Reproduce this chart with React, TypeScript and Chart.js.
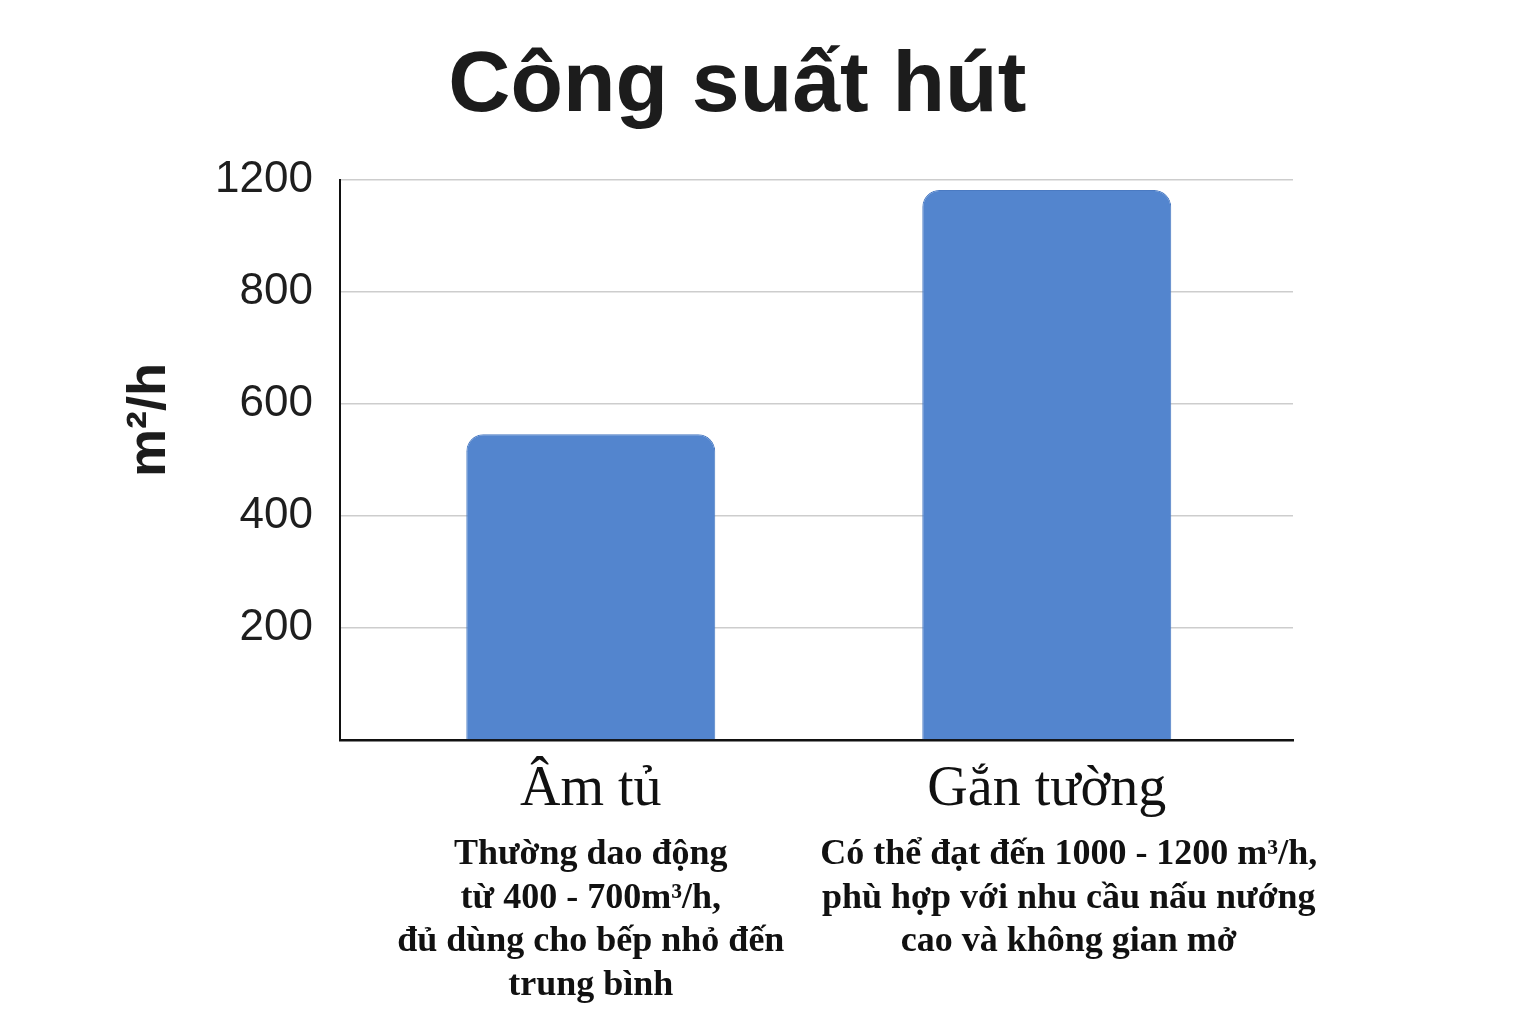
import React, { useEffect, useRef } from "react";
import { Chart, registerables } from "chart.js";

Chart.register(...registerables);

const TITLE = "Công suất hút";
const Y_TITLE = "m²/h";
const categories = ["Âm tủ", "Gắn tường"];
const descriptions = [
  ["Thường dao động", "từ 400 - 700m³/h,", "đủ dùng cho bếp nhỏ đến", "trung bình"],
  ["Có thể đạt đến 1000 - 1200 m³/h,", "phù hợp với nhu cầu nấu nướng", "cao và không gian mở"],
];
const values = [546, 982];
const tickValues = [0, 200, 400, 600, 800, 1000];
const tickLabels = ["", "200", "400", "600", "800", "1200"];

const SANS = '"Liberation Sans", Arial, Helvetica, sans-serif';
const SERIF = '"Liberation Serif", "Times New Roman", serif';

const textPlugin = {
  id: "customText",
  afterDraw(chart: any) {
    const ctx = chart.ctx as CanvasRenderingContext2D;
    const xs = chart.scales.x;
    ctx.save();
    ctx.fillStyle = "#1c1c1c";
    ctx.textAlign = "center";
    ctx.textBaseline = "alphabetic";
    ctx.font = `bold 86px ${SANS}`;
    ctx.fillText(TITLE, chart.width * 0.48, 111);

    ctx.save();
    ctx.translate(165, 420);
    ctx.rotate(-Math.PI / 2);
    ctx.font = `bold 54px ${SANS}`;
    ctx.fillText(Y_TITLE, 0, 0);
    ctx.restore();

    ctx.fillStyle = "#111";
    categories.forEach((cat, i) => {
      const x = xs.getPixelForValue(i);
      ctx.font = `56px ${SERIF}`;
      ctx.fillText(cat, x, 805);
      ctx.font = `bold 36px ${SERIF}`;
      descriptions[i].forEach((line, j) => {
        ctx.fillText(line, x + (i === 1 ? 22 : 0), 864 + j * 43.5);
      });
    });
    ctx.restore();
  },
};

export default function App() {
  const ref = useRef<HTMLCanvasElement | null>(null);
  useEffect(() => {
    if (!ref.current) return;
    const chart = new Chart(ref.current, {
      type: "bar",
      data: {
        datasets: [
          {
            data: values.map((v, i) => ({ x: i, y: v })),
            backgroundColor: "#5385CE",
            borderColor: "#4A7AC2",
            borderWidth: 1,
            borderSkipped: "bottom",
            borderRadius: { topLeft: 17, topRight: 17, bottomLeft: 0, bottomRight: 0 },
            categoryPercentage: 1,
            barPercentage: 0.546,
          },
        ],
      },
      options: {
        responsive: false,
        animation: false,
        devicePixelRatio: 1,
        layout: { padding: { top: 180, bottom: 284, left: 100, right: 243 } },
        plugins: { legend: { display: false }, tooltip: { enabled: false }, title: { display: false } },
        scales: {
          x: {
            type: "linear",
            min: -0.55,
            max: 1.54,
            offset: false,
            afterBuildTicks: (s: any) => {
              s.ticks = categories.map((_, i) => ({ value: i }));
            },
            grid: { display: false, drawTicks: false },
            ticks: { display: false },
            border: { display: true, color: "#111", width: 2.5 },
          },
          y: {
            type: "linear",
            min: 0,
            max: 1000,
            afterBuildTicks: (s: any) => {
              s.ticks = tickValues.map((v) => ({ value: v }));
            },
            afterFit: (s: any) => {
              s.width = 240;
            },
            grid: { color: "#cdcdcd", lineWidth: 1.5, drawTicks: false },
            border: { display: true, color: "#111", width: 2 },
            ticks: {
              padding: 27,
              color: "#1e1e1e",
              font: { family: SANS, size: 44 },
              callback: (v: any) => {
                const k = tickValues.indexOf(Number(v));
                return k >= 0 ? tickLabels[k] : "";
              },
            },
          },
        },
      },
      plugins: [textPlugin],
    });
    return () => chart.destroy();
  }, []);
  return (
    <div style={{ position: "absolute", left: 0, top: 0, width: 1536, height: 1024, background: "#fff" }}>
      <canvas ref={ref} width={1536} height={1024} style={{ display: "block" }} />
    </div>
  );
}
